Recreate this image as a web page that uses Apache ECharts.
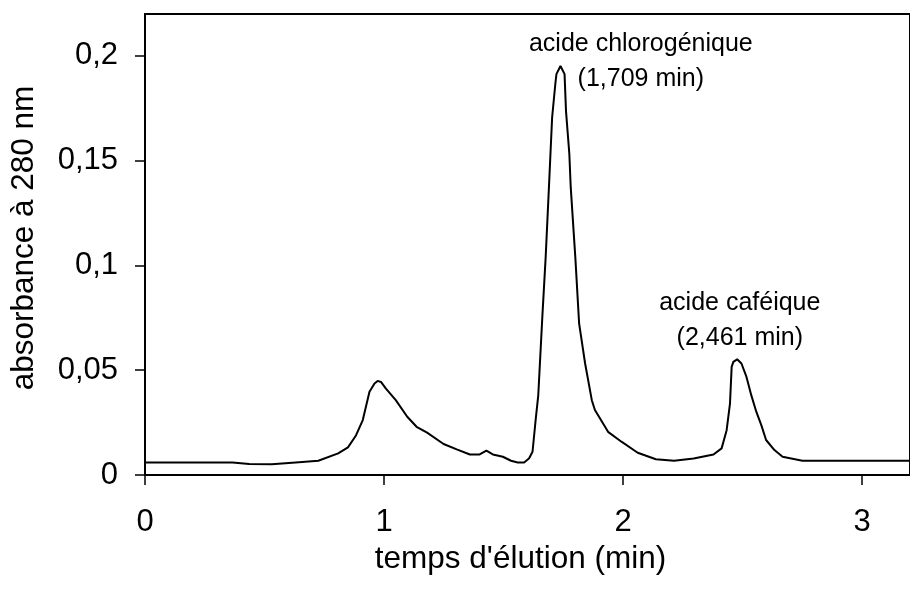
<!DOCTYPE html>
<html>
<head>
<meta charset="utf-8">
<script src="https://cdn.jsdelivr.net/npm/echarts@6/dist/echarts.min.js"></script>
<style>
html,body{margin:0;padding:0;background:#fff;}
#chart{width:910px;height:589px;}
</style>
</head>
<body>
<div id="chart"></div>
<script>
// elution time (min)
var times = [0.0, 0.2, 0.366, 0.436, 0.53, 0.63, 0.725, 0.808, 0.849, 0.883, 0.911, 0.939, 0.960, 0.973, 0.987, 1.007, 1.049, 1.097, 1.136, 1.180, 1.249, 1.304, 1.359, 1.400, 1.428, 1.455, 1.497, 1.531, 1.559, 1.586, 1.607, 1.621, 1.634, 1.645, 1.662, 1.676, 1.689, 1.696, 1.703, 1.717, 1.721, 1.738, 1.755, 1.761, 1.775, 1.781, 1.800, 1.816, 1.841, 1.869, 1.882, 1.937, 1.993, 2.061, 2.137, 2.213, 2.295, 2.378, 2.412, 2.433, 2.447, 2.454, 2.461, 2.477, 2.495, 2.516, 2.536, 2.557, 2.578, 2.598, 2.633, 2.667, 2.75, 2.846, 3.2];
// absorbance at 280 nm
var absorbance = [0.006, 0.006, 0.006, 0.0052, 0.0051, 0.006, 0.0068, 0.0103, 0.0132, 0.019, 0.0262, 0.0397, 0.0437, 0.0449, 0.0444, 0.0413, 0.0357, 0.0278, 0.023, 0.0202, 0.0148, 0.0122, 0.0098, 0.0098, 0.0116, 0.0098, 0.0087, 0.0068, 0.006, 0.006, 0.008, 0.0111, 0.0262, 0.038, 0.0754, 0.104, 0.1357, 0.1532, 0.1706, 0.1873, 0.1913, 0.1952, 0.1913, 0.1738, 0.1532, 0.137, 0.104, 0.0722, 0.0532, 0.0357, 0.031, 0.0206, 0.0159, 0.0106, 0.0075, 0.0068, 0.0079, 0.0098, 0.0127, 0.0214, 0.0341, 0.0516, 0.054, 0.0552, 0.0532, 0.0468, 0.0381, 0.0302, 0.0238, 0.0167, 0.0119, 0.0087, 0.0068, 0.0068, 0.0068];
var xTicks = [0, 1, 2, 3];
var yTicks = [0, 0.05, 0.1, 0.15, 0.2];
var peakNames = ['acide chlorogénique\n(1,709 min)', 'acide caféique\n(2,461 min)'];
var peakLabelAt = [[2.074, 0.1973], [2.488, 0.0739]];

var FONT = '"Liberation Sans", Arial, Helvetica, sans-serif';
var chart = echarts.init(document.getElementById('chart'), null, {renderer: 'canvas'});
var seriesData = times.map(function (t, i) { return [t, absorbance[i]]; });
var fmt = function (v) { return String(+v.toFixed(3)).replace('.', ','); };

chart.setOption({
  animation: false,
  backgroundColor: '#fff',
  grid: {left: 145, top: 14, bottom: 114, right: -8, show: true, borderColor: '#000', borderWidth: 2, backgroundColor: 'transparent'},
  xAxis: {
    type: 'value', min: 0, max: 3.2, interval: 1,
    name: "temps d'élution (min)", nameLocation: 'middle', nameGap: 54,
    nameTextStyle: {fontFamily: FONT, fontSize: 31.5, color: '#000', padding: [0, 14, 0, 0]},
    axisLine: {show: true, onZero: false, lineStyle: {color: '#000', width: 2}},
    axisTick: {show: true, length: 10, inside: false, customValues: xTicks, lineStyle: {color: '#000', width: 1.5}},
    axisLabel: {show: true, margin: 32, customValues: xTicks, fontFamily: FONT, fontSize: 31, color: '#000',
      formatter: function (v) { return Math.abs(v - Math.round(v)) < 1e-9 ? String(Math.round(v)) : ''; }},
    splitLine: {show: false}
  },
  yAxis: {
    type: 'value', min: 0, max: 0.22, interval: 0.05,
    name: 'absorbance à 280 nm', nameLocation: 'middle', nameGap: 105, nameRotate: 90,
    nameTextStyle: {fontFamily: FONT, fontSize: 31.5, color: '#000', padding: [0, 0, 0, 13]},
    axisLine: {show: true, onZero: false, lineStyle: {color: '#000', width: 2}},
    axisTick: {show: true, length: 10, inside: false, customValues: yTicks, lineStyle: {color: '#000', width: 1.5}},
    axisLabel: {show: true, margin: 27, customValues: yTicks, fontFamily: FONT, fontSize: 31, color: '#000', formatter: fmt},
    splitLine: {show: false}
  },
  series: [{
    type: 'line',
    data: seriesData,
    showSymbol: false,
    symbol: 'none',
    smooth: false,
    lineStyle: {color: '#000', width: 2},
    clip: true,
    markPoint: {
      symbol: 'circle', symbolSize: 0,
      itemStyle: {color: 'transparent'},
      label: {show: true, position: 'inside', color: '#000', fontFamily: FONT, fontSize: 25, lineHeight: 35, align: 'center', verticalAlign: 'middle'},
      data: peakNames.map(function (n, i) {
        return {coord: peakLabelAt[i], label: {formatter: n}};
      })
    }
  }]
});
</script>
</body>
</html>
